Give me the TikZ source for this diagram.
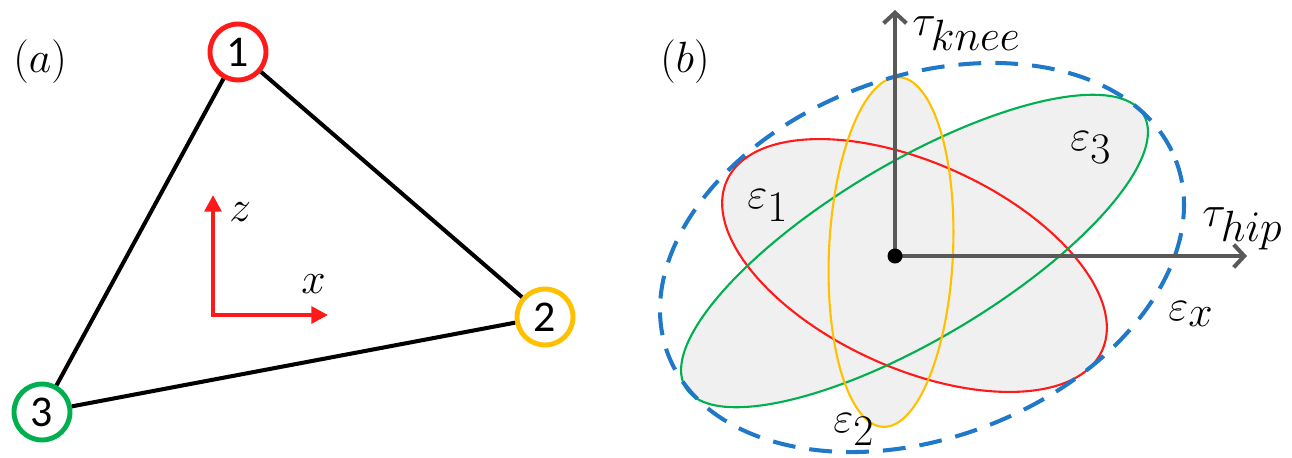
\documentclass[tikz,border=0pt]{standalone}
\usepackage{fontspec}
\newfontfamily\numfont{Carlito}
\usetikzlibrary{arrows.meta}
\definecolor{cred}{HTML}{FF1A1A}
\definecolor{cgreen}{HTML}{00B050}
\definecolor{cyellow}{HTML}{FFC000}
\definecolor{cblue}{HTML}{1F78C8}
\definecolor{cgray}{HTML}{595959}
\definecolor{cfill}{HTML}{F0F0F0}
\tikzset{
  vnode/.style={circle, draw, line width=2.8pt, minimum size=1.12cm, inner sep=0pt, fill=white, font=\numfont\fontsize{25}{30}\selectfont},
  edge/.style={line width=2.3pt, black},
  redaxis/.style={line width=2.3pt, cred, -{Triangle[length=9.5pt,width=9.5pt]}},
  grayaxis/.style={line width=2.3pt, cgray, -{Straight Barb[length=6pt,width=13pt]}},
  lab/.style={anchor=base west, inner sep=0pt, font=\fontsize{34}{40}\selectfont},
  plab/.style={anchor=base west, inner sep=0pt, font=\fontsize{31}{36}\selectfont},
  ell/.style={line width=1.2pt},
}
\begin{document}
\begin{tikzpicture}[x=0.02cm, y=-0.02cm]
\useasboundingbox (0,0) rectangle (1292,457);
% ---------- panel (a) ----------
\node[plab] (la) at (13,72) {$(a)$};
\node[vnode, draw=cred] (n1) at (238,52) {1};
\node[vnode, draw=cyellow] (n2) at (545,317) {2};
\node[vnode, draw=cgreen] (n3) at (42,412) {3};
\draw[edge] (n1) -- (n2);
\draw[edge] (n1) -- (n3);
\draw[edge] (n3) -- (n2);
\coordinate (o) at (213,315);
\coordinate (zt) at (213,195);
\coordinate (xt) at (328,315);
\draw[redaxis] (o) -- (zt);
\draw[redaxis] ([xshift=-1.15pt]o) -- (xt);
\node[lab] (lz) at (229,221) {$z$};
\node[lab] (lx) at (301,293) {$x$};
% ---------- panel (b) ----------
\node[plab] (lb) at (660,72) {$(b)$};
% fills
\fill[cfill, shift={(914.5,265.5)}, rotate=-24.4] (0,0) ellipse [x radius=206, y radius=102.7];
\fill[cfill, shift={(914.5,251)}, rotate=30.8] (0,0) ellipse [x radius=266.6, y radius=88.4];
\fill[cfill, shift={(891,252)}, rotate=-2.6] (0,0) ellipse [x radius=62, y radius=175];
% outlines
\draw[ell, cred, shift={(914.5,265.5)}, rotate=-24.4] (0,0) ellipse [x radius=206, y radius=102.7];
\draw[ell, cgreen, shift={(914.5,251)}, rotate=30.8] (0,0) ellipse [x radius=266.6, y radius=88.4];
\draw[ell, cyellow, shift={(891,252)}, rotate=-2.6] (0,0) ellipse [x radius=62, y radius=175];
\draw[line width=2.3pt, cblue, dash pattern=on 13pt off 8pt, shift={(922,257.5)}, rotate=20.9] (0,0) ellipse [x radius=271.8, y radius=180.5];
% axes
\coordinate (O) at (895,256);
\coordinate (kt) at (895,10);
\coordinate (ht) at (1247,256);
\draw[grayaxis] (O) -- (kt);
\draw[grayaxis] (O) -- (ht);
\fill[black] (O) circle [radius=7.5];
\node[lab] (lk) at (912,35) {$\tau_{knee}$};
\node[lab] (lh) at (1202,226) {$\tau_{hip}$};
\node[lab] (e1) at (747,208) {$\varepsilon_1$};
\node[lab] (e2) at (833,432) {$\varepsilon_2$};
\node[lab] (e3) at (1070,150) {$\varepsilon_3$};
\node[lab] (ex) at (1168,320) {$\varepsilon_x$};
\end{tikzpicture}
\end{document}
